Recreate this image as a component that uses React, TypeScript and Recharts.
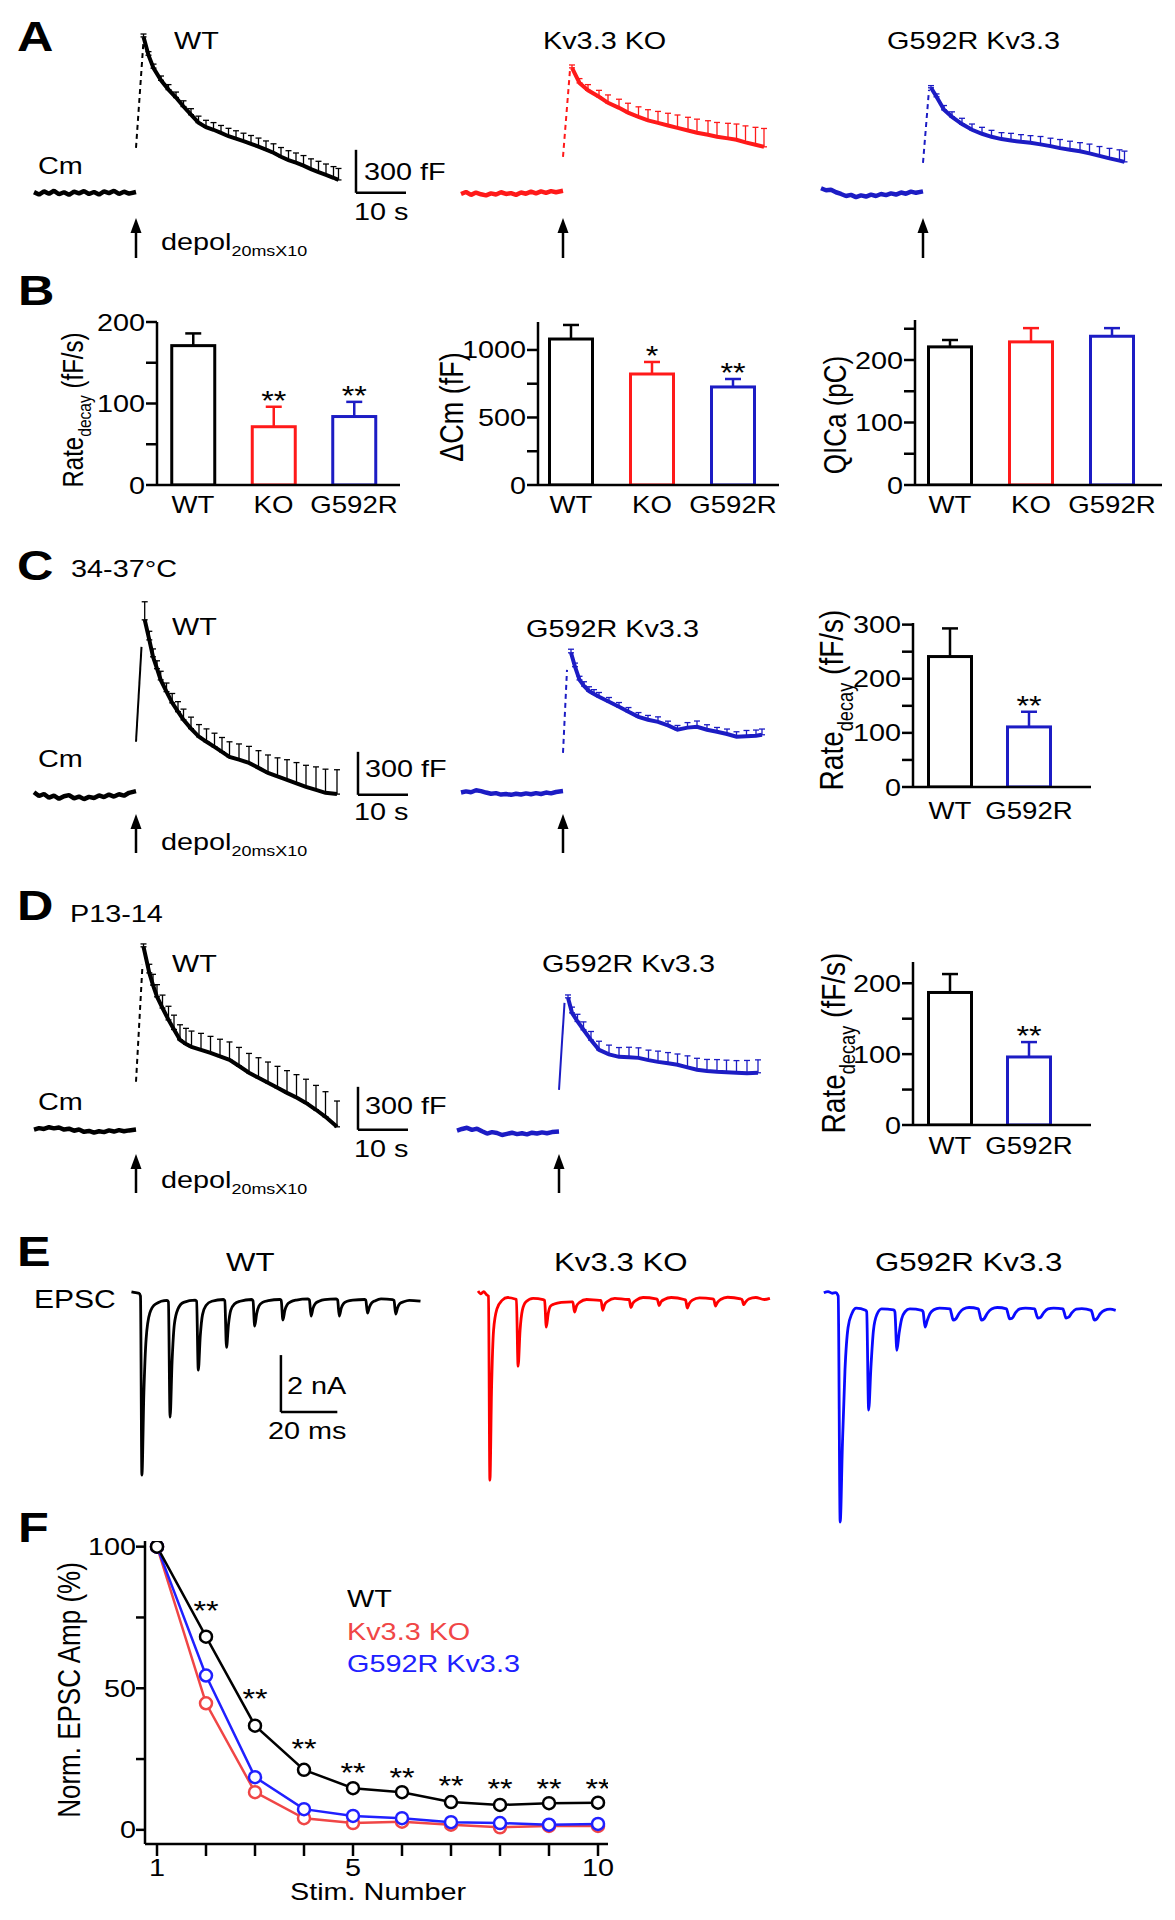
import React from 'react';
import {
  Bar,
  BarChart,
  ComposedChart,
  ErrorBar,
  Line,
  LineChart,
  ReferenceLine,
  Scatter,
  XAxis,
  YAxis,
} from 'recharts';

const FONT = '"Liberation Sans", Arial, Helvetica, sans-serif';
const SX = 1.2; // the figure's lettering is stretched horizontally
const BLACK = '#000000';
const RED = '#ff1a1a';
const BLUE = '#1c1cc4';
const E_RED = '#ff0000';
const E_BLUE = '#0a0aff';
const F_RED = '#f04646';
const F_BLUE = '#2020ff';

// capacitance traces: px per s, px per fF (300 fF bar = 43 px, 10 s bar = 50 px)
const PX_S = 5;
const PX_FF = 43 / 300;
// EPSC traces: px per ms, px per nA
const PX_MS = 2.82;
const PX_NA = 28.5;

type Row = [number, number];
type ERow = [number, number, number];

// ---- A: Cm traces (t s, fF, sem fF) ----
const wtA_base: Row[] = [[-20.4, 5], [-19.4, -12], [-18.4, 10], [-17.4, -6], [-16.4, 14], [-15.4, -10], [-14.4, 4], [-13.4, -14], [-12.4, 8], [-11.4, -4], [-10.4, 12], [-9.4, -8], [-8.4, 6], [-7.4, -12], [-6.4, 10], [-5.4, -2], [-4.4, 14], [-3.4, -8], [-2.4, 8], [-1.4, -6], [0, 6]];
const wtA_rise: Row[] = [[0, 314], [1.5, 1060]];
const wtA_decay: ERow[] = [[1.5, 1088, 20], [2.5, 960, 25], [3.5, 870, 28], [5, 785, 30], [6.5, 720, 35], [8, 665, 38], [9.5, 602, 40], [11, 545, 42], [12.5, 490, 45], [14, 458, 48], [15.5, 440, 50], [17, 418, 52], [18.5, 395, 55], [20, 378, 55], [21.5, 360, 56], [23, 342, 58], [24.5, 322, 60], [26, 302, 60], [27.5, 280, 62], [29, 252, 64], [30.5, 228, 66], [32, 210, 68], [33.5, 190, 70], [35, 165, 72], [36.5, 145, 75], [38, 125, 76], [39.5, 105, 78], [40.5, 90, 80]];

const koA_base: Row[] = [[-20.4, -8], [-19.4, 6], [-18.4, -14], [-17.4, 2], [-16.4, -10], [-15.4, -18], [-14.4, -4], [-13.4, -12], [-12.4, 4], [-11.4, -8], [-10.4, -2], [-9.4, -14], [-8.4, 2], [-7.4, -6], [-6.4, 8], [-5.4, -4], [-4.4, 10], [-3.4, 0], [-2.4, 12], [-1.4, 4], [0, 14]];
const koA_rise: Row[] = [[0, 251], [1.4, 858]];
const koA_decay: ERow[] = [[1.8, 872, 20], [3.3, 767, 30], [5, 715, 40], [7.2, 670, 45], [9, 628, 55], [11.2, 593, 60], [13, 560, 65], [15.1, 530, 70], [17, 505, 75], [19, 488, 80], [21, 470, 85], [22.9, 453, 90], [25, 435, 92], [26.8, 419, 95], [29, 405, 98], [30.8, 391, 100], [33, 380, 105], [34.7, 370, 110], [36.5, 352, 115], [38.5, 335, 122], [40.2, 321, 128]];

const gA_base: Row[] = [[-20.4, 32], [-19.4, 18], [-18.4, 22], [-17.4, 4], [-16.4, -8], [-15.4, -22], [-14.4, -14], [-13.4, -30], [-12.4, -18], [-11.4, -26], [-10.4, -12], [-9.4, -22], [-8.4, -8], [-7.4, -16], [-6.4, -4], [-5.4, -12], [-4.4, 2], [-3.4, -6], [-2.4, 8], [-1.4, 0], [0, 10]];
const gA_rise: Row[] = [[0, 209], [1.2, 719]];
const gA_decay: ERow[] = [[1.6, 733, 15], [2.7, 670, 20], [4.2, 579, 30], [5.8, 530, 35], [7.8, 480, 40], [9.8, 440, 40], [11.8, 412, 45], [13.7, 391, 45], [15.7, 375, 45], [17.6, 365, 50], [19.6, 356, 50], [21.5, 349, 50], [23.5, 338, 55], [25.5, 326, 55], [27.4, 312, 60], [29.4, 300, 60], [31.4, 290, 60], [33.3, 275, 65], [35.3, 258, 65], [37.3, 240, 70], [39.3, 225, 75], [40.3, 216, 75]];

// ---- C: 34-37 °C ----
const cWT_base: Row[] = [[-20.4, 18], [-19.4, -8], [-18.4, 6], [-17.4, -20], [-16.4, -6], [-15.4, -28], [-14.4, -10], [-13.4, -2], [-12.4, -24], [-11.4, -12], [-10.4, -30], [-9.4, -14], [-8.4, -22], [-7.4, -4], [-6.4, -16], [-5.4, 2], [-4.4, -12], [-3.4, 4], [-2.4, -6], [-1.4, 14], [0, 26]];
const cWT_rise: Row[] = [[0, 370], [1.1, 1032]];
const cWT_decay: ERow[] = [[1.74, 1221, 126], [2.66, 1081, 60], [3.4, 963, 55], [4.2, 880, 55], [4.94, 802, 60], [6.1, 720, 60], [7.24, 642, 65], [8.4, 580, 70], [9.5, 523, 75], [11, 462, 80], [12.6, 405, 85], [14.1, 370, 90], [15.7, 335, 95], [17.2, 300, 100], [18.7, 265, 105], [20.6, 245, 110], [22.6, 223, 115], [24.5, 188, 120], [26.4, 153, 125], [28.3, 128, 130], [30.2, 105, 140], [32.1, 80, 145], [34, 56, 150], [36, 35, 160], [37.9, 14, 165], [40.2, 5, 170]];

const cG_base: Row[] = [[-20.4, 2], [-19.4, 10], [-18.4, 4], [-17.4, 18], [-16.4, 12], [-15.4, 2], [-14.4, -6], [-13.4, -2], [-12.4, -12], [-11.4, -8], [-10.4, -14], [-9.4, -6], [-8.4, -12], [-7.4, -4], [-6.4, -10], [-5.4, -2], [-4.4, -8], [-3.4, 2], [-2.4, -4], [-1.4, 6], [0, 12]];
const cG_rise: Row[] = [[0, 279], [0.8, 858]];
const cG_decay: ERow[] = [[1.6, 977, 25], [2.4, 880, 25], [3.3, 788, 25], [4.2, 745, 30], [5.2, 710, 30], [6.2, 690, 30], [7.2, 670, 30], [9.2, 635, 30], [11.2, 600, 30], [13.1, 565, 30], [15.1, 530, 30], [17, 510, 30], [19, 495, 35], [21, 470, 30], [22.9, 440, 30], [24.9, 455, 35], [26.8, 461, 40], [28.8, 440, 35], [30.8, 426, 30], [32.8, 410, 35], [34.7, 391, 35], [36.7, 395, 40], [38.6, 398, 40], [39.8, 405, 40]];

// ---- D: P13-14 ----
const dWT_base: Row[] = [[-20.4, 2], [-19.4, 12], [-18.4, 6], [-17.4, 18], [-16.4, 10], [-15.4, 16], [-14.4, 2], [-13.4, 8], [-12.4, -6], [-11.4, 2], [-10.4, -14], [-9.4, -8], [-8.4, -20], [-7.4, -10], [-6.4, -16], [-5.4, -4], [-4.4, -12], [-3.4, -2], [-2.4, -10], [-1.4, -4], [0, 2]];
const dWT_rise: Row[] = [[0, 335], [1.3, 1151]];
const dWT_decay: ERow[] = [[1.5, 1277, 20], [2.66, 1095, 60], [3.4, 1010, 75], [4.2, 928, 85], [5.3, 850, 90], [6.5, 767, 95], [7.6, 700, 100], [8.8, 628, 105], [10, 598, 110], [11.1, 579, 110], [13, 558, 115], [14.9, 537, 115], [16.8, 512, 120], [18.7, 488, 125], [20.6, 445, 130], [22.6, 398, 135], [24.5, 363, 140], [26.4, 328, 145], [28.3, 293, 150], [30.2, 258, 155], [32.1, 225, 160], [34, 188, 165], [36, 140, 170], [37.9, 91, 175], [40.2, 21, 180]];

const dG_base: Row[] = [[-20.4, 8], [-19.4, 20], [-18.4, 28], [-17.4, 14], [-16.4, 22], [-15.4, 4], [-14.4, -12], [-13.4, -2], [-12.4, -8], [-11.4, -22], [-10.4, -14], [-9.4, -6], [-8.4, -16], [-7.4, -10], [-6.4, -18], [-5.4, -6], [-4.4, -12], [-3.4, -4], [-2.4, -10], [-1.4, -2], [0, 2]];
const dG_rise: Row[] = [[0, 293], [1.1, 900]];
const dG_decay: ERow[] = [[1.8, 935, 20], [2.6, 830, 40], [3.7, 770, 50], [4.9, 712, 55], [6.4, 640, 60], [8, 572, 60], [10, 540, 65], [12, 523, 65], [14, 520, 70], [15.9, 516, 70], [17.9, 500, 70], [19.8, 488, 75], [21.8, 478, 75], [23.7, 468, 75], [25.7, 450, 80], [27.6, 433, 80], [29.6, 425, 80], [31.6, 419, 85], [33.5, 415, 85], [35.5, 412, 85], [37.6, 408, 90], [39.8, 412, 90]];

// ---- B / C / D bar values ----
const bCats = ['WT', 'KO', 'G592R'];
const bColors = [BLACK, RED, BLUE];
const rateB = [171, 71.5, 84];
const rateBErr = [15, 24.5, 18];
const rateBSig = ['', '**', '**'];
const dCmB = [1081, 822, 726];
const dCmBErr = [104, 89, 59];
const dCmBSig = ['', '*', '**'];
const qicaB = [221, 229, 238];
const qicaBErr = [11, 22, 13];
const qicaBSig = ['', '', ''];

const cdCats = ['WT', 'G592R'];
const cdColors = [BLACK, BLUE];
const rateC = [241, 111];
const rateCErr = [52, 28];
const rateD = [187, 96];
const rateDErr = [26, 21];
const cdSig = ['', '**'];

// ---- E: EPSC trains (t ms, nA) ----
const epscWT: Row[] = [
  [-3, 0.15], [-1.5, 0.12], [-0.3, 0.1], [0.2, 0.0], [0.7, -6.28], [1.4, -3.4], [2.2, -1.5], [3.5, -0.6], [5.5, -0.28], [9.6, -0.15],
  [10.1, -0.2], [10.7, -4.25], [11.4, -2.3], [12.2, -1.0], [13.5, -0.45], [15.5, -0.22], [19.6, -0.14],
  [20.1, -0.18], [20.7, -2.6], [21.4, -1.4], [22.2, -0.65], [23.5, -0.32], [25.5, -0.18], [29.6, -0.12],
  [30.1, -0.16], [30.7, -1.8], [31.4, -1.0], [32.2, -0.5], [33.5, -0.28], [35.5, -0.18], [39.6, -0.12],
  [40.1, -0.16], [40.7, -1.05], [41.4, -0.62], [42.2, -0.35], [43.5, -0.22], [45.5, -0.16], [49.6, -0.12],
  [50.1, -0.15], [50.7, -0.84], [51.4, -0.5], [52.2, -0.3], [53.5, -0.2], [55.5, -0.14], [59.6, -0.1],
  [60.1, -0.14], [60.7, -0.7], [61.4, -0.42], [62.2, -0.26], [63.5, -0.18], [65.5, -0.12], [69.6, -0.1],
  [70.1, -0.14], [70.7, -0.7], [71.4, -0.42], [72.2, -0.26], [73.5, -0.18], [75.5, -0.14], [79.6, -0.12],
  [80.1, -0.14], [80.7, -0.6], [81.4, -0.38], [82.2, -0.24], [83.5, -0.16], [85.5, -0.1], [89.6, -0.12],
  [90.1, -0.15], [90.7, -0.63], [91.4, -0.4], [92.2, -0.26], [93.5, -0.2], [95.5, -0.15], [99.5, -0.18],
];
const epscKO: Row[] = [
  [-3.5, 0.18], [-2.5, 0.08], [-1.5, 0.16], [-0.5, 0.05], [0.2, 0.0], [0.7, -6.46], [1.3, -3.2], [2, -1.2], [3.2, -0.45], [5, -0.15], [7, -0.05], [9.6, -0.1],
  [10.1, -0.12], [10.7, -2.46], [11.4, -1.2], [12.2, -0.5], [13.5, -0.2], [16, -0.08], [19.6, -0.12],
  [20.1, -0.15], [20.7, -1.09], [21.4, -0.6], [22.2, -0.35], [23.5, -0.28], [26, -0.22], [29.6, -0.2],
  [30.1, -0.2], [30.7, -0.56], [31.4, -0.35], [32.5, -0.22], [35, -0.12], [39.6, -0.15],
  [40.1, -0.15], [40.7, -0.5], [41.4, -0.3], [42.5, -0.18], [45, -0.08], [49.6, -0.12],
  [50.1, -0.12], [50.7, -0.4], [51.4, -0.25], [52.5, -0.15], [55, -0.05], [59.6, -0.1],
  [60.1, -0.12], [60.7, -0.33], [61.4, -0.2], [62.5, -0.12], [65, -0.05], [69.6, -0.12],
  [70.1, -0.14], [70.7, -0.42], [71.4, -0.26], [72.5, -0.14], [75, -0.06], [79.6, -0.1],
  [80.1, -0.12], [80.7, -0.35], [81.4, -0.22], [82.5, -0.12], [85, -0.04], [89.6, -0.1],
  [90.1, -0.12], [90.7, -0.3], [91.4, -0.2], [92.5, -0.1], [95, -0.05], [98, -0.12], [100, -0.08],
];
const epscG: Row[] = [
  [-5, 0.12], [-3.5, 0.16], [-2, 0.1], [-0.8, 0.12], [0.1, 0.0], [0.8, -7.93], [1.6, -5.2], [2.5, -2.6], [3.6, -1.1], [5, -0.6], [6.5, -0.42], [9.8, -0.5],
  [10.2, -0.55], [10.9, -4.0], [11.7, -2.5], [12.6, -1.2], [13.8, -0.65], [15.5, -0.45], [19.8, -0.48],
  [20.2, -0.55], [20.9, -1.9], [21.7, -1.3], [22.6, -0.8], [23.8, -0.55], [25.5, -0.45], [29.8, -0.5],
  [30.2, -0.55], [30.9, -1.09], [31.7, -0.85], [32.6, -0.62], [34, -0.48], [36, -0.42], [39.8, -0.45],
  [40.2, -0.6], [40.9, -0.84], [41.8, -0.8], [43, -0.6], [44.5, -0.45], [46.5, -0.4], [49.8, -0.45],
  [50.2, -0.6], [50.9, -0.84], [51.8, -0.8], [53, -0.6], [54.5, -0.45], [56.5, -0.4], [59.8, -0.45],
  [60.2, -0.58], [60.9, -0.8], [61.8, -0.78], [63, -0.58], [64.5, -0.45], [66.5, -0.42], [69.8, -0.45],
  [70.2, -0.58], [70.9, -0.77], [71.8, -0.75], [73, -0.58], [74.5, -0.45], [76.5, -0.42], [79.8, -0.45],
  [80.2, -0.56], [80.9, -0.77], [81.8, -0.74], [83, -0.58], [84.5, -0.46], [86.5, -0.44], [89.8, -0.5],
  [90.2, -0.6], [90.9, -0.84], [91.8, -0.8], [93, -0.62], [94.5, -0.5], [96.5, -0.46], [98.5, -0.5],
];

// ---- F: normalised EPSC amplitude ----
const stims = [1, 2, 3, 4, 5, 6, 7, 8, 9, 10];
const normWT = [100, 68.2, 36.8, 21.2, 14.7, 13.3, 9.8, 8.8, 9.4, 9.6];
const normKO = [100, 44.7, 13.3, 4.1, 2.4, 2.9, 1.8, 0.9, 1.4, 1.4];
const normG = [100, 54.5, 18.6, 7.3, 4.9, 4.1, 2.7, 2.4, 1.8, 2.1];
const starStims = [2, 3, 4, 5, 6, 7, 8, 9, 10];
const starLevel = [79.5, 48.4, 30.7, 22.3, 20.5, 17.7, 16.6, 16.6, 16.6];

const axisStyle = { stroke: BLACK, strokeWidth: 2.5 };

function T({ x, y, s = 24, c = BLACK, b = false, children }: { x: number; y: number; s?: number; c?: string; b?: boolean; children: React.ReactNode }) {
  return (
    <div
      style={{
        position: 'absolute',
        left: x,
        top: y - 0.13 * s,
        fontSize: s,
        lineHeight: `${s}px`,
        fontWeight: b ? 'bold' : 'normal',
        color: c,
        whiteSpace: 'nowrap',
        transform: `scaleX(${SX})`,
        transformOrigin: '0 0',
      }}
    >
      {children}
    </div>
  );
}

function RotLabel({ cx, cy, s = 24, children }: { cx: number; cy: number; s?: number; children: React.ReactNode }) {
  return (
    <div style={{ position: 'absolute', left: cx, top: cy, width: 0, height: 0 }}>
      <div
        style={{
          position: 'absolute',
          left: 0,
          top: 0,
          whiteSpace: 'nowrap',
          fontSize: s,
          lineHeight: `${s}px`,
          transformOrigin: '0 0',
          transform: `scaleX(${SX}) rotate(-90deg) translate(-50%, -50%)`,
        }}
      >
        {children}
      </div>
    </div>
  );
}

function Sub({ s, children }: { s: number; children: React.ReactNode }) {
  return <span style={{ fontSize: s * 0.65, position: 'relative', top: s * 0.28 }}>{children}</span>;
}

function Arrow({ x, top, bottom }: { x: number; top: number; bottom: number }) {
  return (
    <svg style={{ position: 'absolute', left: x - 7, top }} width={14} height={bottom - top}>
      <polygon points="7,0 1.5,15 12.5,15" fill={BLACK} />
      <line x1={7} y1={12} x2={7} y2={bottom - top} stroke={BLACK} strokeWidth={2.5} />
    </svg>
  );
}

function Depol({ y }: { y: number }) {
  return (
    <T x={161} y={y}>
      depol<Sub s={23}>20msX10</Sub>
    </T>
  );
}

function CmTrace({
  x0, y0, tMax = 43, base, rise, decay, color, dashed = true, bar,
}: {
  x0: number; y0: number; tMax?: number; base: Row[]; rise: Row[]; decay: ERow[]; color: string; dashed?: boolean; bar?: number;
}) {
  const tMin = -22;
  const vMin = -400;
  const vMax = 1450;
  const left = x0 + tMin * PX_S;
  const top = y0 - vMax * PX_FF;
  const w = (tMax - tMin) * PX_S;
  const h = (vMax - vMin) * PX_FF;
  return (
    <div style={{ position: 'absolute', left, top }}>
      <LineChart width={w} height={h} margin={{ top: 0, right: 0, bottom: 0, left: 0 }}>
        <XAxis hide type="number" dataKey="t" domain={[tMin, tMax]} allowDataOverflow />
        <YAxis hide type="number" domain={[vMin, vMax]} allowDataOverflow />
        <Line data={base.map(([t, v]) => ({ t, b: v }))} dataKey="b" stroke={color} strokeWidth={4.5} strokeLinejoin="bevel" dot={false} activeDot={false} isAnimationActive={false} />
        <Line data={rise.map(([t, v]) => ({ t, r: v }))} dataKey="r" stroke={color} strokeWidth={2} strokeDasharray={dashed ? '5 4' : undefined} dot={false} activeDot={false} isAnimationActive={false} />
        <Line data={decay.map(([t, v, e]) => ({ t, d: v, err: [0, e] }))} dataKey="d" stroke={color} strokeWidth={4} dot={false} activeDot={false} isAnimationActive={false}>
          <ErrorBar dataKey="err" direction="y" width={3} stroke={color} strokeWidth={1.3} />
        </Line>
        {bar !== undefined
          ? [
              <ReferenceLine key="sv" segment={[{ x: bar, y: 0 }, { x: bar, y: 300 }]} stroke={BLACK} strokeWidth={2.5} ifOverflow="visible" />,
              <ReferenceLine key="sh" segment={[{ x: bar, y: 0 }, { x: bar + 10, y: 0 }]} stroke={BLACK} strokeWidth={2.5} ifOverflow="visible" />,
            ]
          : null}
      </LineChart>
    </div>
  );
}

function EpscTrace({ x0, y0, rows, color, bar }: { x0: number; y0: number; rows: Row[]; color: string; bar?: boolean }) {
  const tMin = -6;
  const tMax = 101;
  const vMin = -8.5;
  const vMax = 0.6;
  return (
    <div style={{ position: 'absolute', left: x0 + tMin * PX_MS, top: y0 - vMax * PX_NA }}>
      <LineChart width={(tMax - tMin) * PX_MS} height={(vMax - vMin) * PX_NA} margin={{ top: 0, right: 0, bottom: 0, left: 0 }}>
        <XAxis hide type="number" dataKey="t" domain={[tMin, tMax]} allowDataOverflow />
        <YAxis hide type="number" domain={[vMin, vMax]} allowDataOverflow />
        <Line data={rows.map(([t, v]) => ({ t, i: v }))} dataKey="i" type="monotone" stroke={color} strokeWidth={2.8} dot={false} activeDot={false} isAnimationActive={false} />
        {bar
          ? [
              <ReferenceLine key="sv" segment={[{ x: 50, y: -4.07 }, { x: 50, y: -2.07 }]} stroke={BLACK} strokeWidth={2.5} ifOverflow="visible" />,
              <ReferenceLine key="sh" segment={[{ x: 50, y: -4.07 }, { x: 70, y: -4.07 }]} stroke={BLACK} strokeWidth={2.5} ifOverflow="visible" />,
            ]
          : null}
      </LineChart>
    </div>
  );
}

const yTick = (labelled: number[], fs = 24) => (p: any) => {
  const v = p.payload.value;
  if (!labelled.includes(v)) return <g />;
  return (
    <g transform={`translate(${p.x},${p.y}) scale(${SX},1)`}>
      <text x={0} y={0} dy="0.355em" textAnchor="end" fontSize={fs} fill={BLACK} fontFamily={FONT}>
        {v}
      </text>
    </g>
  );
};

const xTick = (label: (v: number) => string, fs = 23) => (p: any) => {
  const s = label(p.payload.value);
  if (!s) return <g />;
  return (
    <g transform={`translate(${p.x},${p.y}) scale(${SX},1)`}>
      <text x={0} y={0} dy="0.71em" textAnchor="middle" fontSize={fs} fill={BLACK} fontFamily={FONT}>
        {s}
      </text>
    </g>
  );
};

function BarShape(p: any) {
  const { x, y, width, height, payload } = p;
  if (!payload || !height) return <g />;
  const k = height / payload.v;
  const cx = x + width / 2;
  const top = y - payload.e * k;
  return (
    <g>
      <rect x={x} y={y} width={width} height={height} fill="#ffffff" stroke={payload.c} strokeWidth={3} />
      <line x1={cx} y1={y} x2={cx} y2={top} stroke={payload.c} strokeWidth={2.5} />
      <line x1={cx - 8} y1={top} x2={cx + 8} y2={top} stroke={payload.c} strokeWidth={2.5} />
      {payload.sig ? (
        <g transform={`translate(${cx},${top + 3}) scale(${SX},1)`}>
          <text x={0} y={0} textAnchor="middle" fontSize={27} fill={BLACK} fontFamily={FONT}>
            {payload.sig}
          </text>
        </g>
      ) : null}
    </g>
  );
}

function BarPanel({
  x, yTop, yZero, right, max, ticks, labelled, centers, cats, vals, errs, colors, sig, gap = 12,
}: {
  x: number; yTop: number; yZero: number; right: number; max: number; ticks: number[]; labelled: number[];
  centers: number[]; cats: string[]; vals: number[]; errs: number[]; colors: string[]; sig: string[]; gap?: number;
}) {
  const yw = 80;
  const mt = 40;
  const xh = 44;
  const step = centers[1] - centers[0];
  const dom = [(x - centers[0]) / step, (right - centers[0]) / step];
  const data = cats.map((name, i) => ({ i, name, v: vals[i], e: errs[i], c: colors[i], sig: sig[i] }));
  return (
    <div style={{ position: 'absolute', left: x - yw, top: yTop - mt }}>
      <BarChart width={yw + (right - x) + 4} height={mt + (yZero - yTop) + xh} data={data} margin={{ top: mt, right: 4, bottom: 0, left: 0 }}>
        <XAxis
          type="number"
          dataKey="i"
          domain={dom}
          ticks={cats.map((_, i) => i)}
          interval={0}
          allowDataOverflow
          tick={xTick((v) => cats[v] ?? '')}
          tickLine={false}
          tickSize={0}
          tickMargin={gap}
          axisLine={axisStyle}
          height={xh}
        />
        <YAxis
          type="number"
          domain={[0, max]}
          ticks={ticks}
          interval={0}
          allowDataOverflow
          tick={yTick(labelled)}
          width={yw}
          tickSize={11}
          tickMargin={1}
          axisLine={axisStyle}
          tickLine={axisStyle}
        />
        <Bar dataKey="v" barSize={43} shape={BarShape} isAnimationActive={false} />
      </BarChart>
    </div>
  );
}

function StarShape(p: any) {
  return (
    <g transform={`translate(${p.cx},${p.cy + 15}) scale(${SX},1)`}>
      <text x={0} y={0} textAnchor="middle" fontSize={27} fill={BLACK} fontFamily={FONT}>
        **
      </text>
    </g>
  );
}

function PanelF() {
  const yw = 80;
  const mt = 14;
  const rows = stims.map((s, i) => ({ s, wt: normWT[i], ko: normKO[i], g: normG[i] }));
  const stars = starStims.map((s, i) => ({ s, y: starLevel[i] }));
  const plotW = 463;
  const plotH = 303;
  const dotStyle = (c: string) => ({ r: 6, fill: '#ffffff', stroke: c, strokeWidth: 2.5 });
  return (
    <div style={{ position: 'absolute', left: 145 - yw, top: 1541 - mt }}>
      <ComposedChart width={yw + plotW + 12} height={mt + plotH + 50} data={rows} margin={{ top: mt, right: 12, bottom: 0, left: 0 }}>
        <XAxis
          type="number"
          dataKey="s"
          domain={[0.755, 10.204]}
          ticks={stims}
          interval={0}
          allowDataOverflow
          tick={xTick((v) => ([1, 5, 10].includes(v) ? String(v) : ''), 24)}
          tickSize={12}
          tickMargin={3}
          axisLine={axisStyle}
          tickLine={axisStyle}
          height={50}
        />
        <YAxis
          type="number"
          domain={[-5, 102]}
          ticks={[0, 25, 50, 75, 100]}
          interval={0}
          allowDataOverflow
          tick={yTick([0, 50, 100])}
          width={yw}
          tickSize={9}
          tickMargin={0}
          axisLine={axisStyle}
          tickLine={axisStyle}
        />
        <Line dataKey="ko" stroke={F_RED} strokeWidth={2.5} dot={dotStyle(F_RED)} activeDot={false} isAnimationActive={false} />
        <Line dataKey="g" stroke={F_BLUE} strokeWidth={2.5} dot={dotStyle(F_BLUE)} activeDot={false} isAnimationActive={false} />
        <Line dataKey="wt" stroke={BLACK} strokeWidth={2.5} dot={dotStyle(BLACK)} activeDot={false} isAnimationActive={false} />
        <Scatter data={stars} dataKey="y" shape={StarShape} isAnimationActive={false} />
      </ComposedChart>
    </div>
  );
}

export default function App() {
  return (
    <div style={{ position: 'relative', width: 1175, height: 1920, background: '#ffffff', fontFamily: FONT, color: BLACK }}>
      <style>{'body{margin:0;background:#fff}'}</style>

      {/* A */}
      <T x={17} y={21} s={42} b>A</T>
      <CmTrace x0={136} y0={193} tMax={56} base={wtA_base} rise={wtA_rise} decay={wtA_decay} color={BLACK} bar={44} />
      <CmTrace x0={563} y0={193} base={koA_base} rise={koA_rise} decay={koA_decay} color={RED} />
      <CmTrace x0={923} y0={193} base={gA_base} rise={gA_rise} decay={gA_decay} color={BLUE} />
      <T x={174} y={32}>WT</T>
      <T x={543} y={32}>Kv3.3 KO</T>
      <T x={887} y={32}>G592R Kv3.3</T>
      <T x={38} y={157}>Cm</T>
      <T x={364} y={163}>300 fF</T>
      <T x={354} y={203}>10 s</T>
      <Arrow x={136} top={218} bottom={258} />
      <Arrow x={563} top={218} bottom={258} />
      <Arrow x={923} top={218} bottom={258} />
      <Depol y={233} />

      {/* B */}
      <T x={18} y={275} s={42} b>B</T>
      <BarPanel x={157} yTop={322} yZero={485} right={400} max={200} ticks={[0, 50, 100, 150, 200]} labelled={[0, 100, 200]}
        centers={[193, 273.5, 354]} cats={bCats} vals={rateB} errs={rateBErr} colors={bColors} sig={rateBSig} />
      <BarPanel x={538} yTop={322} yZero={485} right={779} max={1207} ticks={[0, 250, 500, 750, 1000]} labelled={[0, 500, 1000]}
        centers={[571, 652, 734]} cats={bCats} vals={dCmB} errs={dCmBErr} colors={bColors} sig={dCmBSig} />
      <BarPanel x={915} yTop={320} yZero={485} right={1162} max={264} ticks={[0, 50, 100, 150, 200, 250]} labelled={[0, 100, 200]}
        centers={[950, 1031, 1111]} cats={bCats} vals={qicaB} errs={qicaBErr} colors={bColors} sig={qicaBSig} />
      <RotLabel cx={75} cy={410} s={24}>Rate<Sub s={24}>decay</Sub> (fF/s)</RotLabel>
      <RotLabel cx={453} cy={407} s={27}>ΔCm (fF)</RotLabel>
      <RotLabel cx={835} cy={415} s={26}>QICa (pC)</RotLabel>

      {/* C */}
      <T x={17} y={550} s={42} b>C</T>
      <T x={71} y={560}>34-37°C</T>
      <CmTrace x0={136} y0={795} tMax={56} base={cWT_base} rise={cWT_rise} decay={cWT_decay} color={BLACK} dashed={false} bar={44.4} />
      <CmTrace x0={563} y0={793} base={cG_base} rise={cG_rise} decay={cG_decay} color={BLUE} />
      <T x={172} y={618}>WT</T>
      <T x={526} y={620}>G592R Kv3.3</T>
      <T x={38} y={750}>Cm</T>
      <T x={365} y={760}>300 fF</T>
      <T x={354} y={803}>10 s</T>
      <Arrow x={136} top={814} bottom={853} />
      <Arrow x={563} top={814} bottom={853} />
      <Depol y={833} />
      <BarPanel x={913} yTop={623} yZero={787} right={1091} max={303} ticks={[0, 50, 100, 150, 200, 250, 300]} labelled={[0, 100, 200, 300]}
        centers={[950, 1029]} cats={cdCats} vals={rateC} errs={rateCErr} colors={cdColors} sig={cdSig} gap={16} />
      <RotLabel cx={834} cy={700} s={28}>Rate<Sub s={28}>decay</Sub> (fF/s)</RotLabel>

      {/* D */}
      <T x={17} y={890} s={42} b>D</T>
      <T x={70} y={905}>P13-14</T>
      <CmTrace x0={136} y0={1130} tMax={56} base={dWT_base} rise={dWT_rise} decay={dWT_decay} color={BLACK} bar={44.4} />
      <CmTrace x0={559} y0={1132} base={dG_base} rise={dG_rise} decay={dG_decay} color={BLUE} dashed={false} />
      <T x={172} y={955}>WT</T>
      <T x={542} y={955}>G592R Kv3.3</T>
      <T x={38} y={1093}>Cm</T>
      <T x={365} y={1097}>300 fF</T>
      <T x={354} y={1140}>10 s</T>
      <Arrow x={136} top={1154} bottom={1193} />
      <Arrow x={559} top={1154} bottom={1193} />
      <Depol y={1171} />
      <BarPanel x={913} yTop={962} yZero={1125} right={1091} max={230} ticks={[0, 50, 100, 150, 200]} labelled={[0, 100, 200]}
        centers={[950, 1029]} cats={cdCats} vals={rateD} errs={rateDErr} colors={cdColors} sig={cdSig} gap={13} />
      <RotLabel cx={836} cy={1043} s={28}>Rate<Sub s={28}>decay</Sub> (fF/s)</RotLabel>

      {/* E */}
      <T x={17} y={1236} s={42} b>E</T>
      <T x={226} y={1252} s={26}>WT</T>
      <T x={554} y={1252} s={26}>Kv3.3 KO</T>
      <T x={875} y={1252} s={26}>G592R Kv3.3</T>
      <T x={34} y={1290} s={25}>EPSC</T>
      <EpscTrace x0={140} y0={1296} rows={epscWT} color={BLACK} bar />
      <EpscTrace x0={488} y0={1296} rows={epscKO} color={E_RED} />
      <EpscTrace x0={838} y0={1296} rows={epscG} color={E_BLUE} />
      <T x={287} y={1377}>2 nA</T>
      <T x={268} y={1422}>20 ms</T>

      {/* F */}
      <T x={18} y={1512} s={42} b>F</T>
      <PanelF />
      <RotLabel cx={69} cy={1690} s={26}>Norm. EPSC Amp (%)</RotLabel>
      <T x={290} y={1883}>Stim. Number</T>
      <T x={347} y={1590}>WT</T>
      <T x={347} y={1623} c={F_RED}>Kv3.3 KO</T>
      <T x={347} y={1655} c={F_BLUE}>G592R Kv3.3</T>
    </div>
  );
}
